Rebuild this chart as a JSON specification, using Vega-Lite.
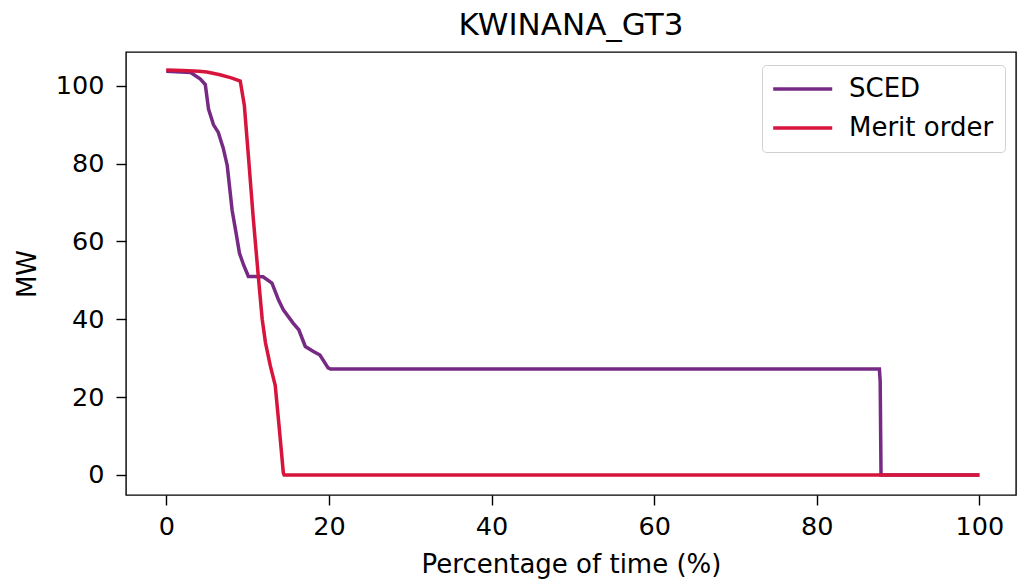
{
  "$schema": "https://vega.github.io/schema/vega-lite/v6.json",
  "width": 890,
  "height": 443,
  "autosize": {"type": "none"},
  "padding": {"left": 126, "top": 52, "right": 2, "bottom": 86},
  "background": "white",
  "title": {"text": "KWINANA_GT3", "fontSize": 31, "font": "DejaVu Sans", "fontWeight": "normal", "color": "#000", "offset": 10},
  "config": {
    "view": {"stroke": "#000", "strokeWidth": 1.4},
    "font": "DejaVu Sans",
    "axis": {"grid": false, "domain": false, "tickColor": "#000", "tickSize": 10, "tickWidth": 1.4, "labelFontSize": 25.5, "labelColor": "#000", "titleFontSize": 26, "titleFontWeight": "normal", "titleColor": "#000"}
  },
  "data": {"values": [
    {"series": "SCED", "i": 0, "x": 0, "y": 103.7},
    {"series": "SCED", "i": 1, "x": 3, "y": 103.4},
    {"series": "SCED", "i": 2, "x": 4.2, "y": 101.7},
    {"series": "SCED", "i": 3, "x": 4.8, "y": 100.3},
    {"series": "SCED", "i": 4, "x": 5.2, "y": 94},
    {"series": "SCED", "i": 5, "x": 5.8, "y": 90},
    {"series": "SCED", "i": 6, "x": 6.4, "y": 88},
    {"series": "SCED", "i": 7, "x": 7.0, "y": 84},
    {"series": "SCED", "i": 8, "x": 7.5, "y": 79.5},
    {"series": "SCED", "i": 9, "x": 8.1, "y": 68},
    {"series": "SCED", "i": 10, "x": 8.6, "y": 62},
    {"series": "SCED", "i": 11, "x": 9.0, "y": 57},
    {"series": "SCED", "i": 12, "x": 9.5, "y": 54},
    {"series": "SCED", "i": 13, "x": 9.9, "y": 52},
    {"series": "SCED", "i": 14, "x": 10.1, "y": 51},
    {"series": "SCED", "i": 15, "x": 11.9, "y": 50.9},
    {"series": "SCED", "i": 16, "x": 13, "y": 49.3},
    {"series": "SCED", "i": 17, "x": 13.8, "y": 45},
    {"series": "SCED", "i": 18, "x": 14.4, "y": 42.4},
    {"series": "SCED", "i": 19, "x": 15.6, "y": 39},
    {"series": "SCED", "i": 20, "x": 16.3, "y": 37.3},
    {"series": "SCED", "i": 21, "x": 17.1, "y": 33},
    {"series": "SCED", "i": 22, "x": 18.1, "y": 31.7},
    {"series": "SCED", "i": 23, "x": 18.9, "y": 30.8},
    {"series": "SCED", "i": 24, "x": 19.9, "y": 27.5},
    {"series": "SCED", "i": 25, "x": 20.2, "y": 27.2},
    {"series": "SCED", "i": 26, "x": 87.7, "y": 27.2},
    {"series": "SCED", "i": 27, "x": 87.8, "y": 24},
    {"series": "SCED", "i": 28, "x": 87.9, "y": 0},
    {"series": "SCED", "i": 29, "x": 100, "y": 0},
    {"series": "Merit order", "i": 0, "x": 0, "y": 104},
    {"series": "Merit order", "i": 1, "x": 2, "y": 103.9},
    {"series": "Merit order", "i": 2, "x": 4, "y": 103.7},
    {"series": "Merit order", "i": 3, "x": 5, "y": 103.5},
    {"series": "Merit order", "i": 4, "x": 6.6, "y": 102.8},
    {"series": "Merit order", "i": 5, "x": 8, "y": 102},
    {"series": "Merit order", "i": 6, "x": 9.1, "y": 101.2},
    {"series": "Merit order", "i": 7, "x": 9.6, "y": 95},
    {"series": "Merit order", "i": 8, "x": 10.1, "y": 82},
    {"series": "Merit order", "i": 9, "x": 10.7, "y": 66},
    {"series": "Merit order", "i": 10, "x": 11.3, "y": 51.5},
    {"series": "Merit order", "i": 11, "x": 11.8, "y": 40},
    {"series": "Merit order", "i": 12, "x": 12.2, "y": 34},
    {"series": "Merit order", "i": 13, "x": 12.8, "y": 28},
    {"series": "Merit order", "i": 14, "x": 13.4, "y": 23},
    {"series": "Merit order", "i": 15, "x": 13.9, "y": 12},
    {"series": "Merit order", "i": 16, "x": 14.4, "y": 0.5},
    {"series": "Merit order", "i": 17, "x": 14.5, "y": 0},
    {"series": "Merit order", "i": 18, "x": 100, "y": 0}
  ]},
  "encoding": {
    "x": {"field": "x", "type": "quantitative", "scale": {"domain": [-4.95, 104.5], "nice": false, "zero": false}, "axis": {"values": [0, 20, 40, 60, 80, 100], "title": "Percentage of time (%)", "labelPadding": 9, "titlePadding": 12}},
    "y": {"field": "y", "type": "quantitative", "scale": {"domain": [-5.15, 108.65], "nice": false, "zero": false}, "axis": {"values": [0, 20, 40, 60, 80, 100], "title": "MW", "labelPadding": 12, "titlePadding": 15}},
    "color": {"field": "series", "type": "nominal", "scale": {"domain": ["SCED", "Merit order"], "range": ["#762a83", "#d7143c"]},
      "legend": {"title": null, "orient": "none", "legendX": 636, "legendY": 13, "symbolType": "M-1.3,0H4.7", "symbolSize": 387, "symbolStrokeWidth": 3.5, "labelFontSize": 26, "labelColor": "#000", "rowPadding": 13, "padding": 11, "strokeColor": "#d0d0d0", "cornerRadius": 4, "fillColor": "white", "labelOffset": 50}},
    "order": {"field": "i", "type": "quantitative"}
  },
  "layer": [
    {"transform": [{"filter": "datum.series === 'SCED'"}], "mark": {"type": "line", "strokeWidth": 3.5}},
    {"transform": [{"filter": "datum.series === 'Merit order'"}], "mark": {"type": "line", "strokeWidth": 3.5}}
  ]
}
